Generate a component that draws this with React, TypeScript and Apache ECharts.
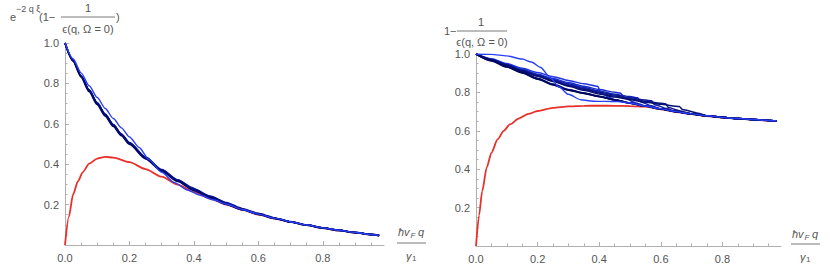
import React, { useEffect, useRef } from 'react';
import * as echarts from 'echarts';

// ---------- tick values ----------
const X_MAJOR = [0, 0.2, 0.4, 0.6, 0.8];
const X_MINOR = [0.05, 0.1, 0.15, 0.25, 0.3, 0.35, 0.45, 0.5, 0.55, 0.65, 0.7, 0.75, 0.85, 0.9, 0.95];
const Y_MAJOR = [0.2, 0.4, 0.6, 0.8, 1.0];
const Y_MINOR = [0.05, 0.1, 0.15, 0.25, 0.3, 0.35, 0.45, 0.5, 0.55, 0.65, 0.7, 0.75, 0.85, 0.9, 0.95];

// ---------- q grids ----------
const XS = [0, 0.05, 0.1, 0.15, 0.2, 0.25, 0.3, 0.35, 0.4, 0.45, 0.5, 0.55, 0.6, 0.65, 0.7, 0.75, 0.8, 0.85, 0.9, 0.95, 0.975];
const XS_L = [0, 0.025, 0.05, 0.075, 0.1, 0.125, 0.15, 0.175, 0.2, 0.25, 0.3, 0.35, 0.4, 0.45, 0.5, 0.55, 0.6, 0.65, 0.7, 0.75, 0.8, 0.85, 0.9, 0.95, 0.975];

// ---------- right panel: 1 - 1/eps ----------
const R_DARK_A = [1, 0.968, 0.937, 0.906, 0.874, 0.843, 0.815, 0.797, 0.78, 0.762, 0.745, 0.729, 0.714, 0.7, 0.688, 0.678, 0.67, 0.664, 0.659, 0.654, 0.652];
const R_DARK_B = [1, 0.964, 0.932, 0.901, 0.869, 0.839, 0.812, 0.795, 0.778, 0.761, 0.744, 0.728, 0.713, 0.699, 0.687, 0.677, 0.669, 0.663, 0.658, 0.654, 0.652];
const R_DARK_C = [1, 0.966, 0.934, 0.903, 0.871, 0.841, 0.813, 0.796, 0.779, 0.761, 0.744, 0.728, 0.714, 0.7, 0.688, 0.678, 0.67, 0.664, 0.659, 0.654, 0.652];
const R_LIGHT = [[0, 1], [0.05, 0.998], [0.1, 0.99], [0.15, 0.974], [0.18, 0.958], [0.21, 0.93], [0.24, 0.878], [0.27, 0.828], [0.3, 0.79], [0.34, 0.762], [0.38, 0.754], [0.42, 0.753], [0.46, 0.752]];
const R_STEP_1 = [[0, 1], [0.05, 0.975], [0.1, 0.95], [0.15, 0.926], [0.2, 0.903], [0.25, 0.882], [0.3, 0.862], [0.35, 0.845], [0.395, 0.832], [0.405, 0.798], [0.43, 0.775]];
const R_STEP_2 = [[0, 1], [0.05, 0.973], [0.1, 0.946], [0.15, 0.92], [0.2, 0.895], [0.25, 0.872], [0.3, 0.851], [0.35, 0.832], [0.4, 0.815], [0.45, 0.801], [0.47, 0.796], [0.48, 0.773], [0.52, 0.745]];
const R_STEP_3 = [[0, 1], [0.05, 0.972], [0.1, 0.944], [0.15, 0.917], [0.2, 0.891], [0.25, 0.867], [0.3, 0.845], [0.35, 0.825], [0.4, 0.807], [0.45, 0.791], [0.5, 0.778], [0.525, 0.772], [0.535, 0.75], [0.57, 0.73]];
const R_STEP_4 = [[0, 1], [0.05, 0.971], [0.1, 0.943], [0.15, 0.915], [0.2, 0.888], [0.25, 0.863], [0.3, 0.84], [0.35, 0.82], [0.4, 0.802], [0.45, 0.786], [0.5, 0.772], [0.55, 0.76], [0.57, 0.756], [0.58, 0.736], [0.62, 0.716]];
const R_STEP_5 = [[0, 1], [0.05, 0.97], [0.1, 0.942], [0.15, 0.913], [0.2, 0.886], [0.25, 0.86], [0.3, 0.836], [0.35, 0.816], [0.4, 0.797], [0.45, 0.781], [0.5, 0.767], [0.55, 0.754], [0.6, 0.744], [0.615, 0.741], [0.625, 0.721], [0.66, 0.705]];
const R_STEP_6 = [[0, 1], [0.05, 0.97], [0.1, 0.941], [0.15, 0.912], [0.2, 0.884], [0.25, 0.857], [0.3, 0.832], [0.35, 0.811], [0.4, 0.792], [0.45, 0.776], [0.5, 0.762], [0.55, 0.749], [0.6, 0.738], [0.65, 0.728], [0.66, 0.726], [0.67, 0.711], [0.72, 0.692]];
const R_RED = [[0, 0], [0.01, 0.16], [0.02, 0.285], [0.035, 0.41], [0.05, 0.485], [0.07, 0.555], [0.09, 0.6], [0.11, 0.633], [0.14, 0.665], [0.17, 0.688], [0.2, 0.703], [0.25, 0.719], [0.3, 0.727], [0.35, 0.73], [0.4, 0.731], [0.45, 0.73], [0.5, 0.729], [0.55, 0.726], [0.6, 0.712], [0.65, 0.698], [0.7, 0.687], [0.75, 0.677], [0.8, 0.669], [0.85, 0.663], [0.9, 0.658], [0.95, 0.653], [0.975, 0.651]];

// ---------- left panel: e^{-2q xi}(1 - 1/eps), on XS_L ----------
const L_DARK_A = [1, 0.913, 0.835, 0.764, 0.7, 0.643, 0.592, 0.545, 0.503, 0.43, 0.368, 0.316, 0.272, 0.235, 0.203, 0.176, 0.153, 0.133, 0.115, 0.099, 0.085, 0.073, 0.062, 0.052, 0.047];
const L_DARK_B = [1, 0.911, 0.831, 0.759, 0.695, 0.638, 0.587, 0.541, 0.499, 0.427, 0.366, 0.315, 0.271, 0.234, 0.202, 0.175, 0.152, 0.132, 0.114, 0.098, 0.084, 0.072, 0.061, 0.052, 0.047];
const L_LIGHT = [[0, 1], [0.025, 0.922], [0.05, 0.852], [0.075, 0.788], [0.1, 0.73], [0.125, 0.676], [0.15, 0.626], [0.175, 0.58], [0.2, 0.535], [0.23, 0.483], [0.26, 0.424], [0.3, 0.36], [0.34, 0.309], [0.38, 0.272], [0.42, 0.246], [0.46, 0.224]];
const L_STEP_1 = [[0, 1], [0.025, 0.915], [0.05, 0.838], [0.075, 0.768], [0.1, 0.705], [0.125, 0.648], [0.15, 0.597], [0.175, 0.55], [0.2, 0.507], [0.25, 0.436], [0.3, 0.374], [0.35, 0.323], [0.395, 0.285], [0.405, 0.275], [0.43, 0.252]];
const L_STEP_2 = [[0, 1], [0.025, 0.914], [0.05, 0.837], [0.075, 0.767], [0.1, 0.703], [0.125, 0.646], [0.15, 0.595], [0.175, 0.548], [0.2, 0.506], [0.25, 0.434], [0.3, 0.372], [0.35, 0.321], [0.4, 0.278], [0.45, 0.243], [0.5, 0.211], [0.525, 0.197], [0.535, 0.188], [0.57, 0.168]];
const L_STEP_3 = [[0, 1], [0.025, 0.914], [0.05, 0.836], [0.075, 0.766], [0.1, 0.702], [0.125, 0.645], [0.15, 0.594], [0.175, 0.547], [0.2, 0.505], [0.25, 0.433], [0.3, 0.371], [0.35, 0.32], [0.4, 0.276], [0.45, 0.24], [0.5, 0.208], [0.55, 0.18], [0.6, 0.157], [0.615, 0.152], [0.625, 0.146], [0.66, 0.13]];
const L_RED = [[0, 0], [0.012, 0.14], [0.025, 0.25], [0.04, 0.315], [0.055, 0.36], [0.075, 0.403], [0.1, 0.428], [0.125, 0.436], [0.15, 0.433], [0.2, 0.41], [0.25, 0.376], [0.3, 0.338], [0.35, 0.299], [0.4, 0.263], [0.45, 0.23], [0.5, 0.2], [0.55, 0.174], [0.6, 0.151], [0.65, 0.131], [0.7, 0.114], [0.75, 0.098], [0.8, 0.084], [0.85, 0.072], [0.9, 0.061], [0.95, 0.051], [0.975, 0.046]];

const FONT = "'Liberation Sans', Arial, sans-serif";
const TEXT_COLOR = '#555555';
const AXIS_COLOR = '#b0b0b0';

const zipWith = (xs: number[], ys: number[]) => xs.map((x, i) => [x, ys[i]]);
// a curve that joins the reference (dark) curve after its own last point
const withTail = (head: number[][], xs: number[], ref: number[]) => {
  const lastX = head[head.length - 1][0];
  return head.concat(zipWith(xs, ref).filter((p) => p[0] > lastX + 1e-9));
};

function line(data: number[][], color: string, idx: number, width = 1.5, smooth: any = 0.25) {
  return {
    type: 'line',
    xAxisIndex: idx * 2,
    yAxisIndex: idx * 2,
    data,
    showSymbol: false,
    symbol: 'none',
    smooth,
    smoothMonotone: 'x',
    lineStyle: { color, width },
    itemStyle: { color },
    silent: true,
    z: 2,
  };
}

function xAxes(gridIndex: number, max: number) {
  return [
    {
      type: 'value', gridIndex, min: 0, max, position: 'bottom',
      axisLine: { show: true, onZero: false, lineStyle: { color: AXIS_COLOR, width: 1 } },
      axisTick: { show: true, inside: true, length: 4, customValues: X_MAJOR, lineStyle: { color: AXIS_COLOR } },
      axisLabel: { show: true, customValues: X_MAJOR, margin: 7, color: TEXT_COLOR, fontSize: 11, fontFamily: FONT, formatter: (v: number) => v.toFixed(1) },
      splitLine: { show: false },
    },
    {
      type: 'value', gridIndex, min: 0, max, position: 'bottom',
      axisLine: { show: false, onZero: false },
      axisTick: { show: true, inside: true, length: 2.5, customValues: X_MINOR, lineStyle: { color: AXIS_COLOR } },
      axisLabel: { show: false },
      splitLine: { show: false },
    },
  ];
}

function yAxes(gridIndex: number) {
  return [
    {
      type: 'value', gridIndex, min: 0, max: 1, position: 'left',
      axisLine: { show: true, onZero: false, lineStyle: { color: AXIS_COLOR, width: 1 } },
      axisTick: { show: true, inside: true, length: 4, customValues: Y_MAJOR, lineStyle: { color: AXIS_COLOR } },
      axisLabel: { show: true, customValues: Y_MAJOR, margin: 6, color: TEXT_COLOR, fontSize: 11, fontFamily: FONT, formatter: (v: number) => v.toFixed(1) },
      splitLine: { show: false },
    },
    {
      type: 'value', gridIndex, min: 0, max: 1, position: 'left',
      axisLine: { show: false, onZero: false },
      axisTick: { show: true, inside: true, length: 2.5, customValues: Y_MINOR, lineStyle: { color: AXIS_COLOR } },
      axisLabel: { show: false },
      splitLine: { show: false },
    },
  ];
}

function txt(x: number, y: number, text: string, size = 11, italic = false, align = 'left') {
  return {
    type: 'text', x, y, silent: true,
    style: {
      text, fill: TEXT_COLOR, fontSize: size, fontFamily: FONT,
      fontStyle: italic ? 'italic' : 'normal',
      textAlign: align, textVerticalAlign: 'middle', align, verticalAlign: 'middle',
    },
  };
}
function bar(x1: number, x2: number, y: number) {
  return { type: 'line', silent: true, shape: { x1, y1: y, x2, y2: y }, style: { stroke: TEXT_COLOR, lineWidth: 0.8 } };
}
function xLabel(x0: number, yNum: number, yBar: number, yDen: number) {
  return [
    txt(x0, yNum, 'ħv', 11, true),
    txt(x0 + 12.5, yNum + 3, 'F', 8, true),
    txt(x0 + 20, yNum, 'q', 11, true),
    bar(x0 - 1, x0 + 28, yBar),
    txt(x0 + 8, yDen, 'γ', 11, true),
    txt(x0 + 14, yDen + 2, '1', 8),
  ];
}

export default function App() {
  const ref = useRef<HTMLDivElement>(null);
  useEffect(() => {
    document.body.style.margin = '0';
    if (!ref.current) return;
    const chart = echarts.init(ref.current, null, { renderer: 'svg' });
    const XMAX = 0.99;

    const blues = ['#2b3ff2', '#1f34e2', '#1a2dcc', '#1424b4', '#0f1c9c', '#0a1584', '#07106e'];
    const darks = ['#000b70', '#00085e', '#000a7a'];

    const series: any[] = [
      // left panel
      line(L_RED, '#e8302a', 0, 1.8),
      line(withTail(L_STEP_1, XS_L, L_DARK_A), blues[3], 0),
      line(withTail(L_STEP_2, XS_L, L_DARK_A), blues[4], 0),
      line(withTail(L_STEP_3, XS_L, L_DARK_A), blues[5], 0),
      line(zipWith(XS_L, L_DARK_B), darks[1], 0, 1.8),
      line(zipWith(XS_L, L_DARK_A), darks[0], 0, 1.8),
      line(withTail(L_LIGHT, XS_L, L_DARK_A), blues[0], 0, 1.4),
      // right panel
      line(R_RED, '#e8302a', 1, 1.8),
      line(withTail(R_STEP_1, XS, R_DARK_A), blues[1], 1),
      line(withTail(R_STEP_2, XS, R_DARK_A), blues[2], 1),
      line(withTail(R_STEP_3, XS, R_DARK_A), blues[3], 1),
      line(withTail(R_STEP_4, XS, R_DARK_A), blues[4], 1),
      line(withTail(R_STEP_5, XS, R_DARK_A), blues[5], 1),
      line(withTail(R_STEP_6, XS, R_DARK_A), blues[6], 1),
      line(zipWith(XS, R_DARK_C), darks[2], 1, 1.6),
      line(zipWith(XS, R_DARK_A), darks[0], 1, 1.6),
      line(zipWith(XS, R_DARK_B), darks[1], 1, 1.6),
      line(withTail(R_LIGHT, XS, R_DARK_A), blues[0], 1, 1.4),
    ];

    const graphic: any[] = [
      // left y label: e^{-2qξ}(1 - 1/ε(q, Ω = 0))
      txt(10, 17, 'e', 11),
      txt(16, 9, '−2 q ξ', 9),
      txt(39, 17, '(1−', 11),
      txt(88, 8, '1', 11, false, 'center'),
      bar(61, 115, 17),
      txt(88, 29, 'ϵ(q, Ω = 0)', 11, false, 'center'),
      txt(116, 17, ')', 11),
      // right y label: 1 - 1/ε(q, Ω = 0)
      txt(444, 31, '1−', 11),
      txt(481, 22, '1', 11, false, 'center'),
      bar(457, 507, 31),
      txt(482, 42, 'ϵ(q, Ω = 0)', 11, false, 'center'),
      // x labels
      ...xLabel(398, 232, 243, 256),
      ...xLabel(792, 234, 244, 257),
    ];

    chart.setOption({
      animation: false,
      backgroundColor: '#ffffff',
      grid: [
        { left: 65, top: 43, width: 319, height: 202 },
        { left: 476, top: 54, width: 305, height: 192 },
      ],
      xAxis: [...xAxes(0, XMAX), ...xAxes(1, XMAX)],
      yAxis: [...yAxes(0), ...yAxes(1)],
      series,
      graphic,
    });
    return () => chart.dispose();
  }, []);
  return <div ref={ref} style={{ position: 'fixed', left: 0, top: 0, width: 830, height: 272 }} />;
}
